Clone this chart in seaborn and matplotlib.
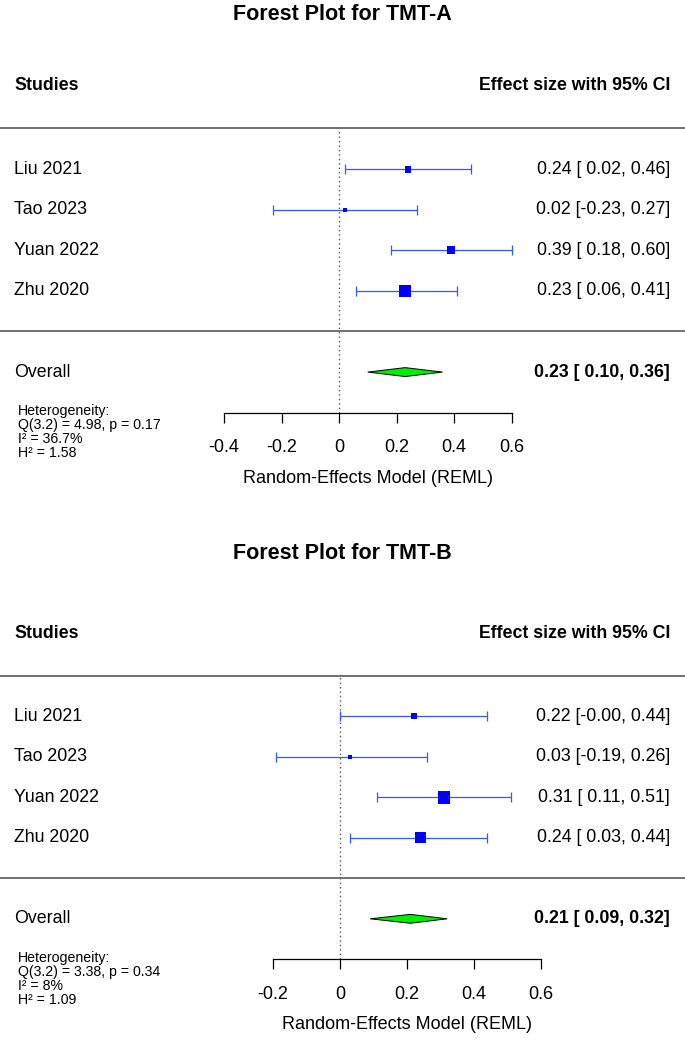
import numpy as np
import pandas as pd
import matplotlib
matplotlib.use("Agg")
import matplotlib.pyplot as plt
import seaborn as sns

# Data
studies = ["Liu 2021", "Tao 2023", "Yuan 2022", "Zhu 2020"]

tmta_es = [0.24, 0.02, 0.39, 0.23]
tmta_lo = [0.02, -0.23, 0.18, 0.06]
tmta_hi = [0.46, 0.27, 0.60, 0.41]
tmta_overall = [0.23, 0.10, 0.36]
tmta_het = ["Heterogeneity:", "Q(3.2) = 4.98, p = 0.17", "I\u00b2 = 36.7%", "H\u00b2 = 1.58"]
tmta_ticks = [-0.4, -0.2, 0, 0.2, 0.4, 0.6]
tmta_ticklabels = ["-0.4", "-0.2", "0", "0.2", "0.4", "0.6"]

tmtb_es = [0.22, 0.03, 0.31, 0.24]
tmtb_lo = [-0.00, -0.19, 0.11, 0.03]
tmtb_hi = [0.44, 0.26, 0.51, 0.44]
tmtb_overall = [0.21, 0.09, 0.32]
tmtb_het = ["Heterogeneity:", "Q(3.2) = 3.38, p = 0.34", "I\u00b2 = 8%", "H\u00b2 = 1.09"]
tmtb_ticks = [-0.2, 0, 0.2, 0.4, 0.6]
tmtb_ticklabels = ["-0.2", "0", "0.2", "0.4", "0.6"]

sns.set_style("white")
plt.rcParams["font.family"] = ["Liberation Sans", "DejaVu Sans"]
plt.rcParams["axes.unicode_minus"] = False
plt.rcParams["text.color"] = "black"
plt.rcParams["xtick.color"] = "black"
plt.rcParams["xtick.labelcolor"] = "black"

PX = 100 / 72.0   # pixels per point at dpi 100
CI_COL = "#3457ff"
SQ_COL = "#0000ff"
LINE_COL = "#707070"


def fmt_ci(es, lo, hi):
    return f"{es:.2f} [{lo:5.2f}, {hi:.2f}]"


def forest(ax, title, title_y, es, lo, hi, overall, het, ticks, ticklabels, xlim):
    k = len(studies)
    rows = np.arange(k, 0, -1)
    df = pd.DataFrame({"study": studies, "es": es, "lo": lo, "hi": hi, "row": rows})

    # metafor-style point sizes from 1/se, scaled to 0.5..1.5
    se = (df["hi"] - df["lo"]) / 3.92
    wi = 1 / se
    psize = (wi - wi.min()) / (wi.max() - wi.min()) + 0.5
    df["area"] = (psize * 8.4 / PX) ** 2

    ax.set_xlim(*xlim)
    ax.set_ylim(-2, 7)

    # CI bars
    ax.errorbar(df["es"], df["row"], xerr=[df["es"] - df["lo"], df["hi"] - df["es"]],
                fmt="none", ecolor=CI_COL, elinewidth=0.9, capsize=3.6, capthick=0.9, zorder=2)
    sns.scatterplot(data=df, x="es", y="row", size="area",
                    sizes=(df["area"].min(), df["area"].max()),
                    size_norm=(df["area"].min(), df["area"].max()),
                    marker="s", color=SQ_COL, edgecolor="none", linewidth=0,
                    legend=False, ax=ax, zorder=3)

    # overall diamond
    m, l, h = overall
    ax.fill([l, m, h, m], [-1, -0.89, -1, -1.11], facecolor="#00ee00",
            edgecolor="black", linewidth=0.7, zorder=3)

    # reference line and separators
    ax.plot([0, 0], [-2, k + 1], color="#555555", linestyle=(0, (1, 2.2)), linewidth=1.0, zorder=1)
    for yy in [k + 1, 0]:
        ax.axhline(yy, color=LINE_COL, linewidth=1.4, zorder=1)

    tf = ax.get_yaxis_transform()
    fs = 12.8
    ax.text(0.0205, k + 2.05, "Studies", transform=tf, fontsize=fs, fontweight="bold", va="center")
    ax.text(0.978, k + 2.05, "Effect size with 95% CI", transform=tf, fontsize=fs,
            fontweight="bold", va="center", ha="right")
    for _, r in df.iterrows():
        ax.text(0.0205, r["row"], r["study"], transform=tf, fontsize=fs, va="center")
        ax.text(0.978, r["row"], fmt_ci(r["es"], r["lo"], r["hi"]), transform=tf,
                fontsize=fs, va="center", ha="right")
    ax.text(0.0205, -1, "Overall", transform=tf, fontsize=fs, va="center")
    ax.text(0.978, -1, fmt_ci(m, l, h), transform=tf, fontsize=fs, va="center",
            ha="right", fontweight="bold")

    # heterogeneity block, one line at a time
    for i, line in enumerate(het):
        ax.text(0.026, -1.96 - 0.345 * i, line, transform=tf, fontsize=10.2,
                va="center", clip_on=False)

    # x axis
    for s in ["top", "left", "right"]:
        ax.spines[s].set_visible(False)
    ax.spines["bottom"].set_bounds(ticks[0], ticks[-1])
    ax.spines["bottom"].set_color("black")
    ax.spines["bottom"].set_linewidth(0.9)
    ax.set_xticks(ticks)
    ax.set_xticklabels(ticklabels, fontsize=13)
    ax.tick_params(axis="x", direction="out", length=7.5, width=0.9, pad=11.5, color="black",
                   bottom=True)
    ax.set_yticks([])
    ax.set_xlabel("")
    ax.set_ylabel("")
    ax.text((ticks[0] + ticks[-1]) / 2, -3.62, "Random-Effects Model (REML)",
            fontsize=13, ha="center", va="center", clip_on=False)

    ax.figure.text(0.5, title_y, title, fontsize=15.5, fontweight="bold", ha="center", va="center")


fig = plt.figure(figsize=(6.85, 10.39), dpi=100)
ax1 = fig.add_axes([0, 0.6028, 1, 0.3517])
ax2 = fig.add_axes([0, 0.0767, 1, 0.3508])
for a in (ax1, ax2):
    a.patch.set_alpha(0)

forest(ax1, "Forest Plot for TMT-A", 1 - 14 / 1039, tmta_es, tmta_lo, tmta_hi, tmta_overall,
       tmta_het, tmta_ticks, tmta_ticklabels, (-339 / 287.5, 346 / 287.5))
forest(ax2, "Forest Plot for TMT-B", 1 - 553.5 / 1039, tmtb_es, tmtb_lo, tmtb_hi, tmtb_overall,
       tmtb_het, tmtb_ticks, tmtb_ticklabels, (-340 / 335.0, 345 / 335.0))

fig.savefig("out.png", dpi=100, facecolor="white")
plt.close(fig)
